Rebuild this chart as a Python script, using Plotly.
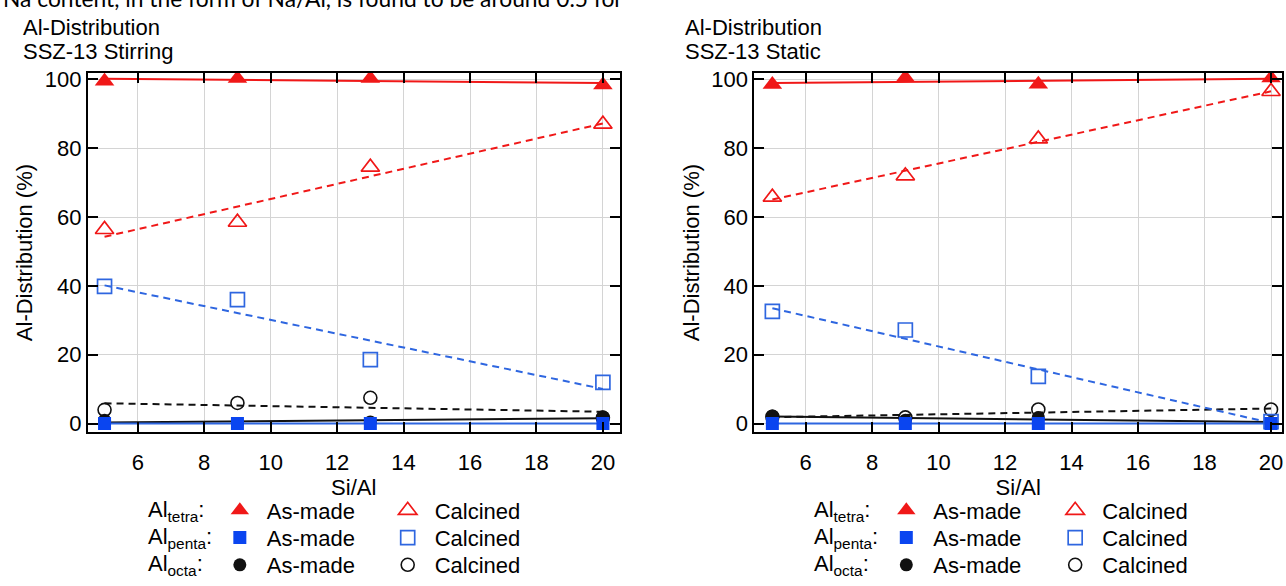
import numpy as np
import plotly.graph_objects as go

# ---------------- data ----------------
si_al = [5, 9, 13, 20]

# SSZ-13 Stirring
stir_tetra_asmade = [99.5, 100.3, 100.3, 98.4]
stir_tetra_calc = [56.4, 58.5, 74.5, 87.0]
stir_penta_asmade = [0.0, 0.0, 0.0, 0.0]
stir_penta_calc = [39.9, 36.0, 18.6, 12.0]
stir_octa_asmade = [1.0, 0.0, 0.5, 2.0]
stir_octa_calc = [4.0, 6.0, 7.5, 1.7]

# SSZ-13 Static
stat_tetra_asmade = [98.5, 100.5, 98.6, 100.4]
stat_tetra_calc = [65.8, 72.0, 82.7, 96.5]
stat_penta_asmade = [0.0, 0.0, 0.0, 0.0]
stat_penta_calc = [32.6, 27.2, 13.7, 0.6]
stat_octa_asmade = [2.2, 1.0, 1.8, 0.3]
stat_octa_calc = [2.0, 1.8, 4.1, 4.1]

x_ticks = [6, 8, 10, 12, 14, 16, 18, 20]
y_ticks = [0, 20, 40, 60, 80, 100]

title_line1 = "Al-Distribution"
panel_names = ["SSZ-13 Stirring", "SSZ-13 Static"]
row_labels = ["Al<sub>tetra</sub>:", "Al<sub>penta</sub>:", "Al<sub>octa</sub>:"]
col_labels = ["As-made", "Calcined"]
top_text = "Na content, in the form of Na/Al, is found to be around 0.5 for"

# ---------------- styling ----------------
W, H = 1286, 586
FONT = "Liberation Sans, Arial, sans-serif"
FS = 22
RED = "#f01818"
BLUE_F = "#0a45f0"
BLUE_L = "#2e66e0"
BLACK = "#111111"


def px(x):
    return x / W


def py(y):
    return 1 - y / H


fig = go.Figure()

panels = [
    dict(xa="x", ya="y",
         series=[stir_tetra_asmade, stir_tetra_calc, stir_penta_asmade,
                 stir_penta_calc, stir_octa_asmade, stir_octa_calc]),
    dict(xa="x2", ya="y2",
         series=[stat_tetra_asmade, stat_tetra_calc, stat_penta_asmade,
                 stat_penta_calc, stat_octa_asmade, stat_octa_calc]),
]

xs = np.array(si_al, dtype=float)
x_end = np.array([si_al[0], si_al[-1]], dtype=float)


def legend_name(panel, row, col):
    idx = panel * 6 + row * 2 + col + 1
    return "legend" if idx == 1 else f"legend{idx}"


for pi, p in enumerate(panels):
    ta, tc, pa, pc, oa, oc = p["series"]
    # fitted trend lines
    for vals, color, dash in [(oa, BLACK, "solid"), (oc, BLACK, "dash"),
                              (pa, BLUE_L, "solid"), (pc, BLUE_L, "dash"),
                              (ta, RED, "solid"), (tc, RED, "dash")]:
        k, b = np.polyfit(xs, np.array(vals, dtype=float), 1)
        fig.add_trace(go.Scatter(
            x=x_end, y=k * x_end + b, mode="lines", xaxis=p["xa"], yaxis=p["ya"],
            line=dict(color=color, width=2, dash="7px,5px" if dash == "dash" else "solid"),
            showlegend=False, hoverinfo="skip"))
    # (values, marker, row, col)
    markers = [
        (oc, dict(symbol="circle-open", size=13, color=BLACK, line=dict(width=1.6, color=BLACK)), 2, 1),
        (oa, dict(symbol="circle", size=13, color=BLACK), 2, 0),
        (pc, dict(symbol="square-open", size=14, color=BLUE_L, line=dict(width=1.7, color=BLUE_L)), 1, 1),
        (pa, dict(symbol="square", size=13, color=BLUE_F), 1, 0),
        (tc, dict(symbol="triangle-up-open", size=16, color=RED, line=dict(width=1.7, color=RED)), 0, 1),
        (ta, dict(symbol="triangle-up", size=17, color=RED), 0, 0),
    ]
    for vals, mk, row, col in markers:
        fig.add_trace(go.Scatter(
            x=si_al, y=vals, mode="markers", xaxis=p["xa"], yaxis=p["ya"],
            marker=mk, legend=legend_name(pi, row, col), name=col_labels[col]))

axis_common = dict(
    showline=True, linecolor="black", linewidth=2, mirror="ticks",
    ticks="inside", ticklen=10, tickwidth=2, tickcolor="black",
    showgrid=True, gridcolor="#d4d4d4", gridwidth=1, zeroline=False,
    tickfont=dict(family=FONT, size=FS, color="black"),
)

y_dom = [py(446), py(70)]
fig.update_layout(
    width=W, height=H,
    margin=dict(l=0, r=0, t=0, b=0),
    paper_bgcolor="white", plot_bgcolor="white",
    font=dict(family=FONT, size=FS, color="black"),
    xaxis=dict(domain=[px(88), px(620)], range=[4.5, 20.5], tickvals=x_ticks,
               anchor="y", ticklabelstandoff=9,
               title=dict(text="Si/Al", font=dict(size=FS), standoff=4), **axis_common),
    yaxis=dict(domain=y_dom, range=[-2.5, 101.9], tickvals=y_ticks, anchor="x",
               title=dict(text="Al-Distribution (%)", font=dict(size=FS), standoff=6), **axis_common),
    xaxis2=dict(domain=[px(755), px(1283)], range=[4.46, 20.33], tickvals=x_ticks,
                anchor="y2", ticklabelstandoff=9,
                title=dict(text="Si/Al", font=dict(size=FS), standoff=4), **axis_common),
    yaxis2=dict(domain=y_dom, range=[-2.5, 101.9], tickvals=y_ticks, anchor="x2",
                title=dict(text="Al-Distribution (%)", font=dict(size=FS), standoff=6), **axis_common),
    hovermode=False,
)

# legends: one per row/column so that the grid matches the reference
leg_common = dict(yanchor="top", xanchor="left", bgcolor="rgba(0,0,0,0)",
                  font=dict(family=FONT, size=FS, color="black"),
                  itemsizing="trace", itemwidth=44)
text_x = [[267, 435], [934, 1103]]
row_y = [518, 546.5, 575]
legends = {}
for pi in range(2):
    for r in range(3):
        for c in range(2):
            legends[legend_name(pi, r, c)] = dict(
                x=px(text_x[pi][c] - 54), y=py(row_y[r] - 12), **leg_common)
fig.update_layout(**legends)

# panel titles (two lines each)
for xpix, name in [(21, panel_names[0]), (684, panel_names[1])]:
    for ypix, txt in [(23, title_line1), (48, name)]:
        fig.add_annotation(x=px(xpix), y=py(ypix), xref="paper", yref="paper",
                           xanchor="left", yanchor="middle", showarrow=False,
                           text=txt, font=dict(family=FONT, size=FS, color="black"))

# legend row labels
for xpix in [146, 813]:
    for i, lab in enumerate(row_labels):
        fig.add_annotation(x=px(xpix), y=py(row_y[i] + 10), xref="paper", yref="paper",
                           xanchor="left", yanchor="middle", showarrow=False,
                           text=lab, font=dict(family=FONT, size=FS, color="black"))

# cropped paragraph text at the very top
fig.add_annotation(x=px(1), y=py(-8), xref="paper", yref="paper",
                   xanchor="left", yanchor="middle", showarrow=False,
                   text=top_text, font=dict(family="Lato, Open Sans, sans-serif", size=22.8, color="black"))

fig.write_html("out.html", config={"displayModeBar": False},
               post_script="document.body.style.margin='0px';")
